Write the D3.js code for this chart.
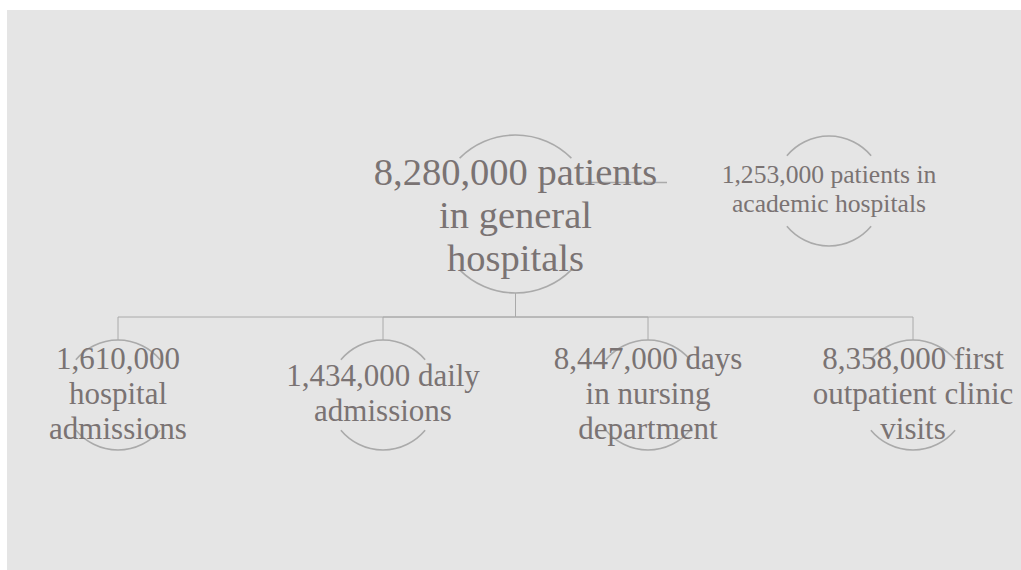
<!DOCTYPE html>
<html><head><meta charset="utf-8">
<script src="https://cdn.jsdelivr.net/npm/d3@7"></script>
<style>html,body{margin:0;padding:0;background:#fff;}svg{display:block;}</style>
</head><body>
<script>
// ---- data ----
const rootLabel = ["8,280,000 patients", "in general", "hospitals"];
const childLabels = [
  ["1,610,000", "hospital", "admissions"],
  ["1,434,000 daily", "admissions"],
  ["8,447,000 days", "in nursing", "department"],
  ["8,358,000 first", "outpatient clinic", "visits"]
];
const sideLabel = ["1,253,000 patients in", "academic hospitals"];

const W = 1021, H = 570;
const svg = d3.select("body").append("svg").attr("width", W).attr("height", H);
svg.append("rect").attr("x", 7).attr("y", 10).attr("width", W - 7).attr("height", H - 10).attr("fill", "#e5e5e5");

const textColor = "#7a7373", lineColor = "#aaaaaa";
const font = "'Liberation Serif', 'Times New Roman', serif";

const treeData = {name: rootLabel, children: childLabels.map(c => ({name: c}))};
const root = d3.hierarchy(treeData);
d3.tree().nodeSize([265, 181]).separation(() => 1)(root);
const ox = 515.5, oy = 214;
const X = d => d.x + ox, Y = d => d.y + oy;

const R_ROOT = 79, R_CHILD = 55;
const linkY = 317;
const g = svg.append("g");

// links (elbow)
root.links().forEach(l => {
  const p = d3.path();
  p.moveTo(X(l.source), Y(l.source) + R_ROOT);
  p.lineTo(X(l.source), linkY);
  p.lineTo(X(l.target), linkY);
  p.lineTo(X(l.target), Y(l.target) - R_CHILD);
  g.append("path").attr("d", p.toString()).attr("fill", "none").attr("stroke", lineColor).attr("stroke-width", 1);
});

function arcs(cx, cy, r, half) {
  const h = half * Math.PI / 180;
  [[-h, h], [Math.PI - h, Math.PI + h]].forEach(([s, e]) => {
    g.append("path")
      .attr("d", d3.arc()({innerRadius: r, outerRadius: r, startAngle: s, endAngle: e}))
      .attr("transform", `translate(${cx},${cy})`)
      .attr("fill", "none").attr("stroke", lineColor).attr("stroke-width", 1.6);
  });
}

function label(cx, cy, lines, size, lh, off) {
  const t = g.append("text").attr("text-anchor", "middle")
    .attr("font-family", font).attr("font-size", size).attr("fill", textColor);
  const y0 = cy - (lines.length - 1) / 2 * lh + off;
  lines.forEach((s, i) => t.append("tspan").attr("x", cx).attr("y", y0 + i * lh).text(s));
}

root.descendants().forEach(d => {
  if (d.depth === 0) {
    arcs(X(d), Y(d), R_ROOT, 45);
    g.append("line").attr("x1", 579).attr("x2", 667).attr("y1", 182.5).attr("y2", 182.5)
      .attr("stroke", lineColor).attr("stroke-width", 1.6);
    label(X(d), Y(d), d.data.name, 38.5, 43, 14);
  } else {
    arcs(X(d), Y(d), R_CHILD, 50);
    label(X(d), Y(d), d.data.name, 31, 35, 8.5);
  }
});

// academic hospitals node
arcs(829, 191, R_CHILD, 50);
label(829, 191, sideLabel, 25.6, 29, 6.5);
</script>
</body></html>
